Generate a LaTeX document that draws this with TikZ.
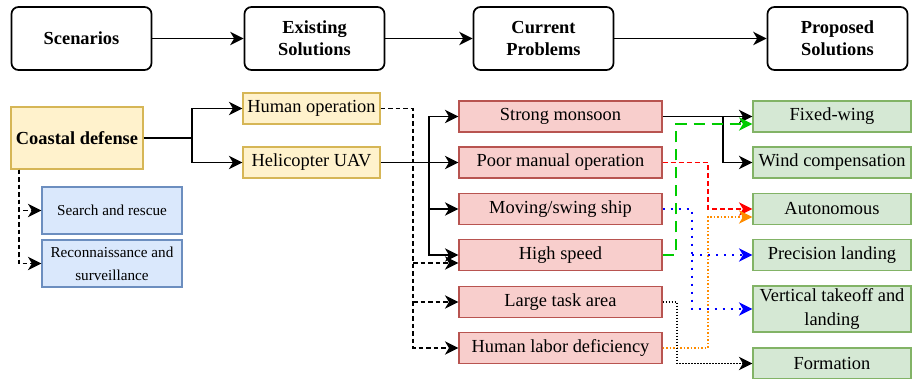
\documentclass[tikz,border=0pt]{standalone}
\usepackage{fontspec}
\setmainfont{Liberation Serif}
\usepackage{xcolor}
\usepackage{tikz}
\usetikzlibrary{arrows.meta,positioning,calc}

\definecolor{scenfill}{HTML}{FFF2CC}
\definecolor{scenline}{HTML}{D6B656}
\definecolor{taskfill}{HTML}{DAE8FC}
\definecolor{taskline}{HTML}{6C8EBF}
\definecolor{probfill}{HTML}{F8CECC}
\definecolor{probline}{HTML}{B85450}
\definecolor{solfill}{HTML}{D5E8D4}
\definecolor{solline}{HTML}{82B366}
\definecolor{lgreen}{HTML}{00CC00}
\definecolor{lorange}{HTML}{FF8C00}

\tikzset{
  stagebox/.style={draw=black, fill=white, line width=1.7pt, rounded corners=7pt,
    minimum width=140pt, minimum height=63pt, inner sep=0pt, align=center,
    font=\fontsize{18.4}{22}\selectfont\bfseries},
  cellbox/.style={line width=1.2pt, minimum height=31pt, inner sep=0pt, align=center,
    font=\fontsize{18.4}{24}\selectfont},
  scenbox/.style={cellbox, draw=scenline, fill=scenfill},
  taskbox/.style={cellbox, draw=taskline, fill=taskfill, minimum width=140pt,
    minimum height=47pt, font=\fontsize{15.2}{23}\selectfont},
  probbox/.style={cellbox, draw=probline, fill=probfill, minimum width=203pt},
  solbox/.style={cellbox, draw=solline, fill=solfill, minimum width=158pt},
  tip/.style={-{Stealth[length=13.5pt,width=13.5pt,inset=4pt]}},
  flow/.style={tip, line width=1.6pt},
  dflow/.style={tip, line width=1.4pt, dash pattern=on 4.5pt off 3pt},
}

\begin{document}
\begin{tikzpicture}[x=1pt, y=-1pt]
\useasboundingbox (0,0) rectangle (912,379);

% ==================== header row ====================
\node (scen) [stagebox] at (81.5,38.5) {Scenarios};
\node (exist) [stagebox] at (314.5,38.5) {Existing\\Solutions};
\node (curr) [stagebox] at (543.5,38.5) {Current\\Problems};
\node (prop) [stagebox] at (837.5,38.5) {Proposed\\Solutions};

\draw[flow] (scen) -- (exist);
\draw[flow] (exist) -- (curr);
\draw[flow] (curr) -- (prop);

% ==================== scenario and existing solutions ====================
\node (coastal) [scenbox, minimum width=132pt, minimum height=62pt, font=\fontsize{18.4}{22}\selectfont\bfseries] at (77,138) {Coastal defense};
\node (humop) [scenbox, minimum width=137pt] at (311.5,108.5) {Human operation};
\node (heli) [scenbox, minimum width=137pt] at (311.5,162.5) {Helicopter UAV};

\node (search) [taskbox] at (112,210.5) {Search and rescue};
\node (recon) [taskbox] at (112,263.5) {Reconnaissance and\\surveillance};

% ==================== current problems ====================
\node (monsoon) [probbox] at (560.5,116.5) {Strong monsoon};
\node (poor) [probbox] at (560.5,162.5) {Poor manual operation};
\node (moving) [probbox] at (560.5,209) {Moving/swing ship};
\node (speed) [probbox] at (560.5,255) {High speed};
\node (large) [probbox] at (560.5,302) {Large task area};
\node (labor) [probbox] at (560.5,348) {Human labor deficiency};

% ==================== proposed solutions ====================
\node (fixed) [solbox] at (832,116.5) {Fixed-wing};
\node (wind) [solbox] at (832,162.5) {Wind compensation};
\node (auto) [solbox] at (832,209) {Autonomous};
\node (prec) [solbox] at (832,255) {Precision landing};
\node (vtol) [solbox, minimum height=46pt] at (832,309) {Vertical takeoff and\\landing};
\node (form) [solbox] at (832,363.5) {Formation};

% bend points of the elbow connectors
\coordinate (jsub) at (19,0);
\coordinate (jcoast) at (192,0);
\coordinate (jhum) at (413,0);
\coordinate (jheli) at (429,0);
\coordinate (jmon) at (723,0);
\coordinate (jgreen) at (676,0);
\coordinate (jdot) at (677,0);
\coordinate (jblue) at (692,0);
\coordinate (jred) at (708,0);
\coordinate (speedlow) at ($(speed.west)+(0,8)$);
\coordinate (fixedlow) at ($(fixed.west)+(0,7.5)$);
\coordinate (autolow) at ($(auto.west)+(0,8)$);

% scenario -> existing solutions
\draw[flow] (coastal.east) -- (coastal.east -| jcoast) |- (humop.west);
\draw[flow] (coastal.east -| jcoast) |- (heli.west);
\draw[dflow] (coastal.south -| jsub) |- (search.west);
\draw[dflow] (coastal.south -| jsub) |- (recon.west);

% existing solutions -> problems
\draw[flow] (heli.east) -- (poor.west);
\draw[flow] (heli.east -| jheli) |- (monsoon.west);
\draw[flow] (heli.east -| jheli) |- (moving.west);
\draw[flow] (heli.east -| jheli) |- (speed.west);
\draw[dflow] (humop.east) -| (labor.west -| jhum) -- (labor.west);
\draw[dflow] (speedlow -| jhum) -- (speedlow);
\draw[dflow] (large.west -| jhum) -- (large.west);

% problems -> proposed solutions
\draw[flow] (monsoon.east) -- (fixed.west);
\draw[flow] (monsoon.east -| jmon) |- (wind.west);
\draw[tip, lgreen, line width=1.5pt, dash pattern=on 11pt off 7pt]
  (speed.east) -| (fixedlow -| jgreen) -- (fixedlow);
\draw[tip, red, line width=1.4pt, dash pattern=on 5pt off 3pt]
  (poor.east) -| (auto.west -| jred) -- (auto.west);
\draw[tip, lorange, line width=1.4pt, dash pattern=on 1.5pt off 2pt]
  (labor.east) -| (autolow -| jred) -- (autolow);
\draw[tip, blue, line width=1.5pt, dash pattern=on 2pt off 6pt]
  (moving.east) -| (vtol.west -| jblue) -- (vtol.west);
\draw[tip, blue, line width=1.5pt, dash pattern=on 2pt off 6pt]
  (prec.west -| jblue) -- (prec.west);
\draw[tip, black, line width=1.4pt, dash pattern=on 1.5pt off 1.5pt]
  (large.east) -| (form.west -| jdot) -- (form.west);

\end{tikzpicture}
\end{document}
